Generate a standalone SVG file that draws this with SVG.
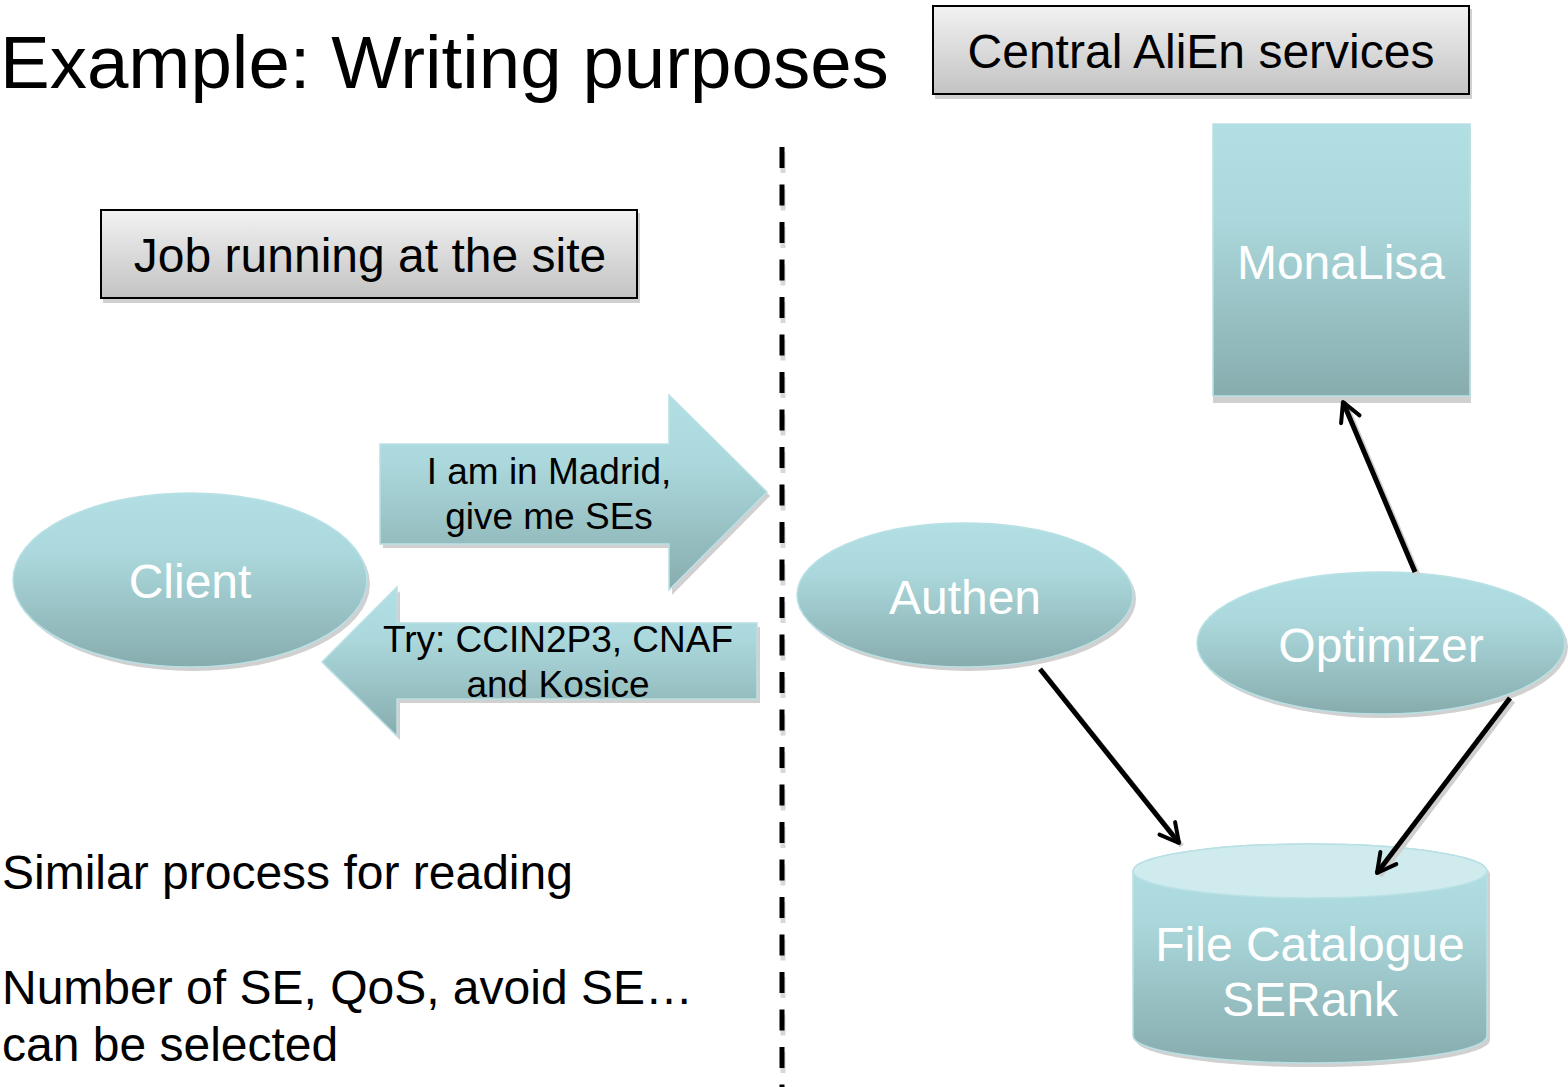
<svg xmlns="http://www.w3.org/2000/svg" width="1568" height="1087" viewBox="0 0 1568 1087">
<defs>
<linearGradient id="teal" x1="0" y1="0" x2="0" y2="1">
<stop offset="0" stop-color="#b1dfe3"/><stop offset="0.35" stop-color="#abd8dc"/><stop offset="1" stop-color="#87acae"/>
</linearGradient>
<linearGradient id="gray" x1="0" y1="0" x2="0" y2="1">
<stop offset="0" stop-color="#f2f2f2"/><stop offset="1" stop-color="#c3c3c3"/>
</linearGradient>
<marker id="open" viewBox="0 0 10 10" refX="8.5" refY="5" markerWidth="5" markerHeight="5" orient="auto" markerUnits="strokeWidth">
<path d="M1,1 L8.5,5 L1,9" fill="none" stroke="#000" stroke-width="1.6" stroke-linecap="round" stroke-linejoin="round"/>
</marker>
</defs>
<style>
.t{font-family:"Liberation Sans",Arial,sans-serif}
.w{fill:#fff;font-size:48px;text-anchor:middle}
.b{fill:#000}
.lbl{font-size:48px;text-anchor:middle}
.arr{font-size:37px;text-anchor:middle}
.note{font-size:48px}
.shadow{fill:#d0d0d0}
.node{fill:url(#teal);stroke:#b9e0e4;stroke-width:1.5}
.box{fill:url(#gray);stroke:#000;stroke-width:2}
.conn{stroke:#000;stroke-width:5;fill:none;marker-end:url(#open)}
.connsh{stroke:#cfcfcf;stroke-width:5;fill:none}
</style>
<rect width="1568" height="1087" fill="#fff"/>
<text class="t b" x="0" y="88" font-size="74.5">Example: Writing purposes</text>
<g id="central">
<rect class="shadow" x="935" y="9" width="537" height="90"/>
<rect class="box" x="933" y="6" width="536" height="88"/>
<text class="t b lbl" x="1201" y="68">Central AliEn services</text>
</g>
<g id="job">
<rect class="shadow" x="103" y="213" width="537" height="90"/>
<rect class="box" x="101" y="210" width="536" height="88"/>
<text class="t b lbl" x="370" y="272">Job running at the site</text>
</g>
<g id="divider">
<line x1="782" y1="149" x2="782" y2="1087" stroke="#d8d8d8" stroke-width="5" stroke-dasharray="21 16.5" transform="translate(1,3)"/>
<line x1="782" y1="147" x2="782" y2="1087" stroke="#000" stroke-width="5" stroke-dasharray="21 16.5"/>
</g>
<g id="client">
<ellipse class="shadow" cx="193" cy="584" rx="177" ry="87"/>
<ellipse class="node" cx="190" cy="580" rx="177" ry="87"/>
<text class="t w" x="190" y="598">Client</text>
</g>
<g id="authen">
<ellipse class="shadow" cx="968" cy="599" rx="168" ry="72"/>
<ellipse class="node" cx="965" cy="595" rx="168" ry="72"/>
<text class="t w" x="965" y="614">Authen</text>
</g>
<g id="optimizer">
<ellipse class="shadow" cx="1384" cy="647" rx="184" ry="71"/>
<ellipse class="node" cx="1381" cy="643" rx="184" ry="71"/>
<text class="t w" x="1381" y="662">Optimizer</text>
</g>
<g id="monalisa">
<rect class="shadow" x="1213" y="127" width="258" height="276"/>
<rect class="node" x="1213" y="124" width="257" height="272"/>
<text class="t w" x="1341" y="279">MonaLisa</text>
</g>
<g id="filecatalogue">
<path class="shadow" d="M1136,874 A177,27 0 0 1 1490,874 V1040 A177,27 0 0 1 1136,1040 Z"/>
<path class="node" d="M1133,871 A177,27 0 0 1 1487,871 V1036 A177,27 0 0 1 1133,1036 Z"/>
<ellipse cx="1310" cy="871" rx="177" ry="27" fill="#cfebee" stroke="#b9e0e4" stroke-width="1.5"/>
<text class="t w" x="1310" y="961">File Catalogue</text>
<text class="t w" x="1310" y="1016">SERank</text>
</g>
<g id="request">
<path class="shadow" d="M383,448 H672 V398 L770,496 L672,595 V548 H383 Z"/>
<path class="node" d="M380,444 H669 V395 L767,492 L669,590 V544 H380 Z"/>
<text class="t b arr" x="549" y="484">I am in Madrid,</text>
<text class="t b arr" x="549" y="529">give me SEs</text>
</g>
<g id="reply">
<path class="shadow" d="M760,627 H400 V591 L325,666 L400,740 V703 H760 Z"/>
<path class="node" d="M757,623 H397 V587 L322,662 L397,736 V699 H757 Z"/>
<text class="t b arr" x="558" y="652">Try: CCIN2P3, CNAF</text>
<text class="t b arr" x="558" y="697">and Kosice</text>
</g>
<g id="connectors">
<line class="connsh" x1="1418" y1="575" x2="1346" y2="405"/>
<line class="connsh" x1="1043" y1="672" x2="1182" y2="846"/>
<line class="connsh" x1="1513" y1="701" x2="1380" y2="876"/>
<line class="conn" x1="1415" y1="572" x2="1343" y2="402"/>
<line class="conn" x1="1040" y1="669" x2="1179" y2="843"/>
<line class="conn" x1="1510" y1="698" x2="1377" y2="873"/>
</g>
<text class="t b note" x="2" y="889">Similar process for reading</text>
<text class="t b note" x="2" y="1004">Number of SE, QoS, avoid SE…</text>
<text class="t b note" x="2" y="1061">can be selected</text>
</svg>
